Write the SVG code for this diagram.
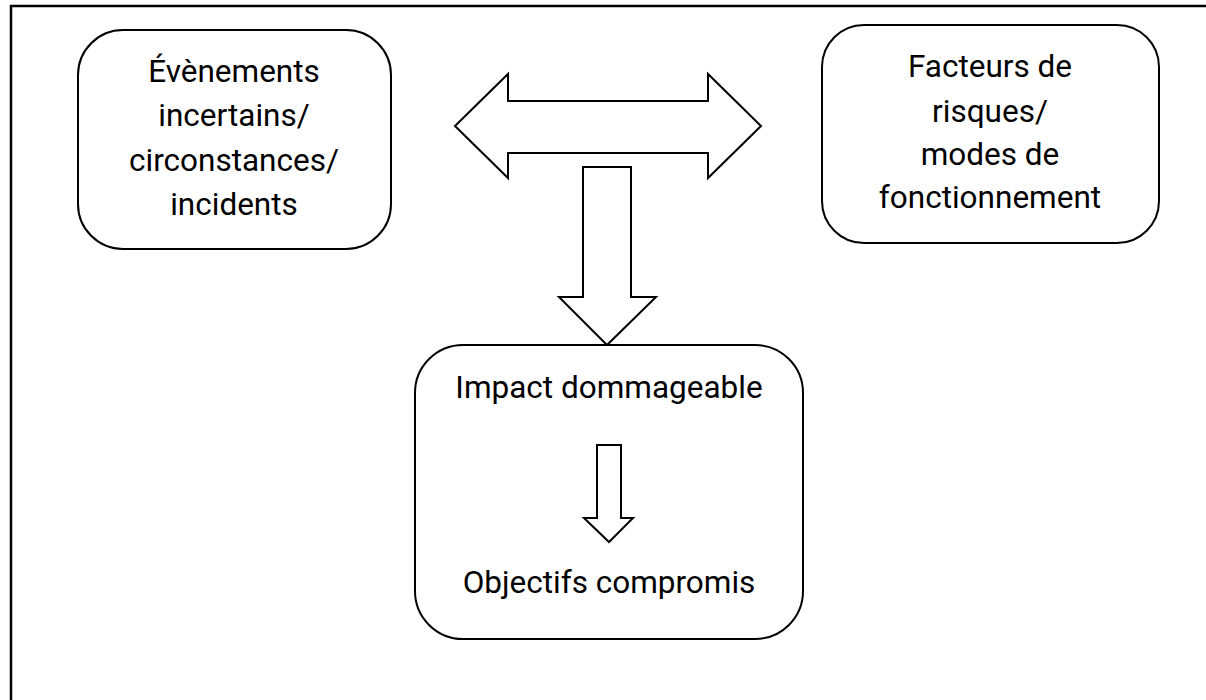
<svg xmlns="http://www.w3.org/2000/svg" width="1206" height="700" viewBox="0 0 1206 700">
  <style>
    .frame { fill: none; stroke: #000; stroke-width: 2.5; }
    .box { fill: #fff; stroke: #000; stroke-width: 2; }
    .arrow { fill: #fff; stroke: #000; stroke-width: 2; stroke-linejoin: miter; }
    .label { font-family: Roboto, "Liberation Sans", sans-serif; font-size: 31.5px; fill: #000; text-anchor: middle; }
  </style>
  <rect width="1206" height="700" fill="#fff"/>
  <!-- outer frame -->
  <path class="frame" d="M11,701 V6 H1206"/>

  <g id="connectors">
    <!-- two-way block arrow between the top boxes -->
    <path class="arrow" d="M455,126 L508,74 V101 H708 V74 L761,126 L708,178 V153 H508 V178 Z"/>
    <!-- block arrow down to the impact box -->
    <path class="arrow" d="M583,167 H631 V297 H656 L607,345 L559,297 H583 Z"/>
  </g>

  <g id="node-evenements">
    <rect class="box" x="78" y="30" width="313" height="219" rx="45" ry="45"/>
    <text class="label" x="234" y="82">Évènements</text>
    <text class="label" x="234" y="126">incertains/</text>
    <text class="label" x="234" y="171">circonstances/</text>
    <text class="label" x="234" y="215">incidents</text>
  </g>

  <g id="node-facteurs">
    <rect class="box" x="822" y="25" width="337" height="218" rx="42" ry="42"/>
    <text class="label" x="990" y="77">Facteurs de</text>
    <text class="label" x="990" y="122">risques/</text>
    <text class="label" x="990" y="165">modes de</text>
    <text class="label" x="990" y="208">fonctionnement</text>
  </g>

  <g id="node-impact">
    <rect class="box" x="415" y="345" width="388" height="294" rx="48" ry="48"/>
    <text class="label" x="609" y="398">Impact dommageable</text>
    <!-- inner block arrow: impact leads to compromised objectives -->
    <path class="arrow" d="M597,445 H621 V518 H633 L609,542 L584,518 H597 Z"/>
    <text class="label" x="609" y="593">Objectifs compromis</text>
  </g>
</svg>
